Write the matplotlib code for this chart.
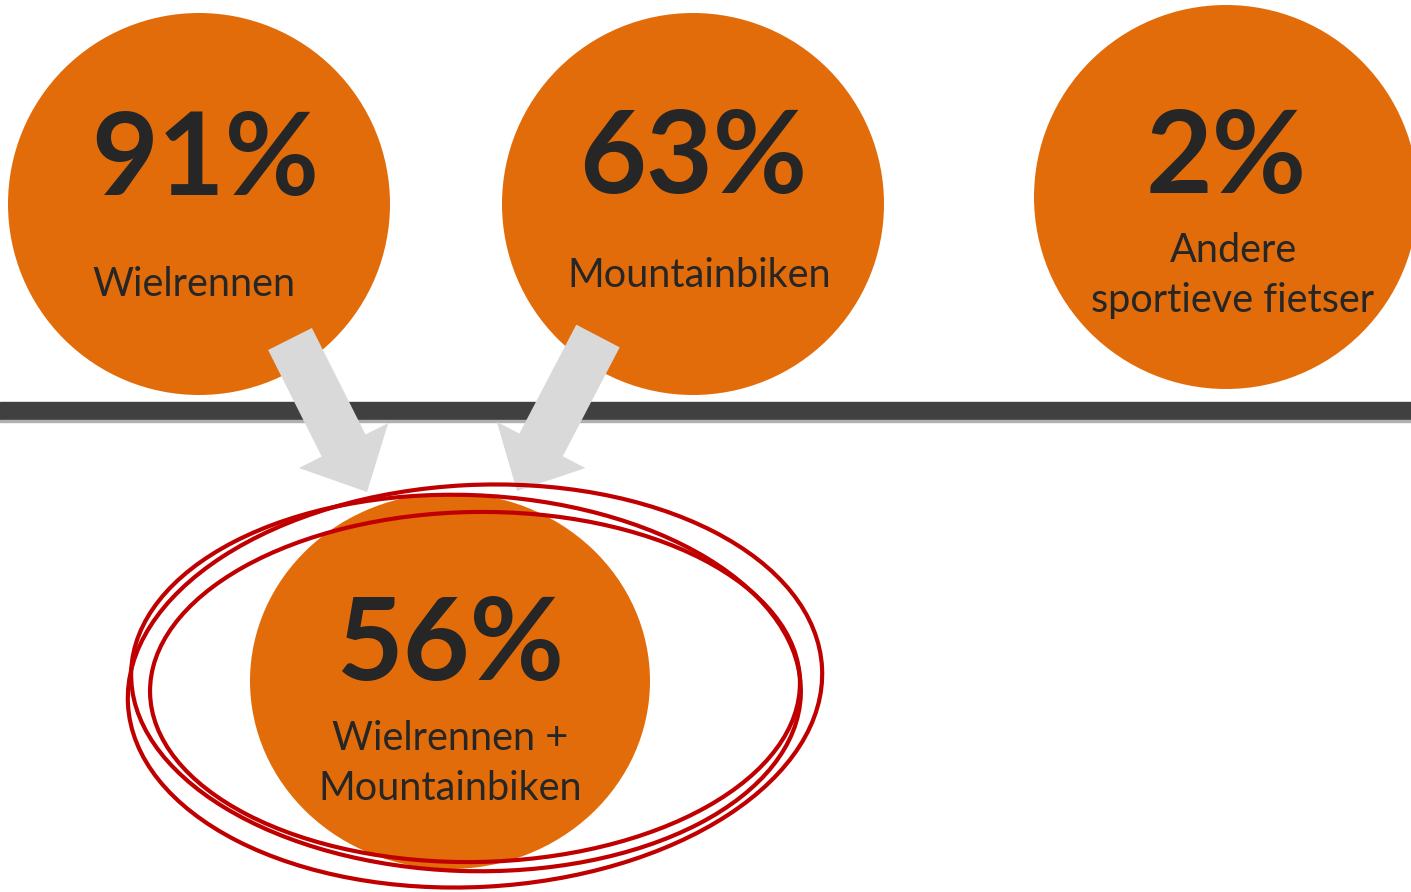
import matplotlib.pyplot as plt
from matplotlib.patches import Circle, Ellipse, FancyArrow, Rectangle

plt.rcParams['font.family'] = ['Lato', 'DejaVu Sans']

# data
percentages = [91, 63, 2, 56]
labels = ['Wielrennen', 'Mountainbiken', 'Andere\nsportieve fietser',
          'Wielrennen +\nMountainbiken']

# layout (pixel space, y pointing down)
centers = [(199, 204), (693, 204), (1226, 197), (450, 681)]
radii = [(191, 191), (191, 191), (192, 192), (200, 188)]
pct_base = [195, 193, 193, 680]
lab_pos = [(194, 296), (699, 287), (1233, 262), (450, 750)]
line_gap = 50

ORANGE = '#e36c0a'
TEXT = '#262626'
BAR = '#404040'
ARROW = '#d9d9d9'
RED = '#c00000'

W, H = 1411, 892
fig = plt.figure(figsize=(W / 100, H / 100), dpi=100)
ax = fig.add_axes([0, 0, 1, 1])
ax.set_xlim(0, W)
ax.set_ylim(H, 0)
ax.set_aspect('equal')
ax.axis('off')

# horizontal divider
ax.add_patch(Rectangle((0, 402), W, 19, color=BAR, zorder=2))
ax.add_patch(Rectangle((0, 420), W, 1.5, color='#b0b0b0', zorder=2))

for i, (c, r) in enumerate(zip(centers, radii)):
    z = 1 if i < 3 else 4
    ax.add_patch(Ellipse(c, 2 * r[0], 2 * r[1], color=ORANGE, zorder=z, lw=0))
    ax.text(c[0] + (6 if i == 0 else 0), pct_base[i], f'{percentages[i]}%',
            ha='center', va='baseline', fontsize=83, fontweight='bold',
            color=TEXT, zorder=6)
    lines = labels[i].split('\n')
    for j, ln in enumerate(lines):
        ax.text(lab_pos[i][0], lab_pos[i][1] + j * line_gap, ln,
                ha='center', va='baseline', fontsize=28.5, color=TEXT, zorder=6)

# arrows from the two top circles to the combined one
arrows = [((290, 339), (367, 492)), ((598, 336), (517, 491))]
for (x0, y0), (x1, y1) in arrows:
    ax.add_patch(FancyArrow(x0, y0, x1 - x0, y1 - y0, width=49, head_width=100,
                            head_length=52, length_includes_head=True,
                            color=ARROW, lw=0, zorder=3))

# hand drawn style red rings
rings = [((475, 686), 695, 402, -3), ((466, 683), 670, 376, 2),
         ((475, 687), 650, 350, -1)]
for c, w, h, a in rings:
    ax.add_patch(Ellipse(c, w, h, angle=a, fill=False, ec=RED, lw=3, zorder=7))

fig.savefig('out.png', dpi=100)
